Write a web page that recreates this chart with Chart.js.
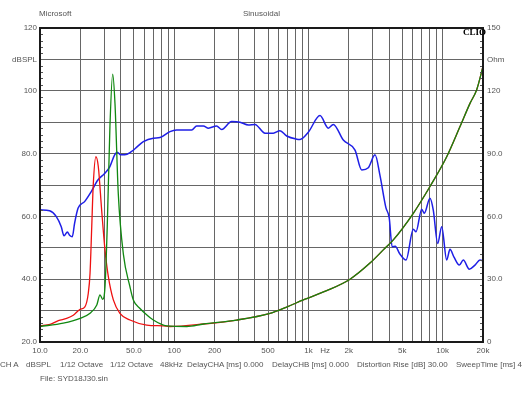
<!DOCTYPE html>
<html><head><meta charset="utf-8">
<script src="https://cdn.jsdelivr.net/npm/chart.js@4/dist/chart.umd.min.js"></script>
<style>
html,body{margin:0;padding:0;background:#fff;}
#wrap{position:relative;width:530px;height:398px;font-family:"Liberation Sans",Arial,sans-serif;color:#555;}
canvas{position:absolute;left:0;top:0;}
.t{position:absolute;font-size:8px;white-space:nowrap;line-height:10px;}
</style></head>
<body><div id="wrap"><canvas id="c" width="530" height="398"></canvas>
<div class="t" style="left:39px;top:9px;">Microsoft</div>
<div class="t" style="left:243px;top:9px;">Sinusoidal</div>
<div class="t" style="left:463px;top:27px;font-family:'Liberation Serif',serif;font-weight:bold;font-size:9px;color:#000;">CLIO</div>
<div class="t" style="left:0px;top:360px;">CH A</div>
<div class="t" style="left:26px;top:360px;">dBSPL</div>
<div class="t" style="left:60px;top:360px;">1/12 Octave</div>
<div class="t" style="left:110px;top:360px;">1/12 Octave</div>
<div class="t" style="left:160px;top:360px;">48kHz</div>
<div class="t" style="left:187px;top:360px;">DelayCHA [ms] 0.000</div>
<div class="t" style="left:272px;top:360px;">DelayCHB [ms] 0.000</div>
<div class="t" style="left:357px;top:360px;">Distortion Rise [dB] 30.00</div>
<div class="t" style="left:456px;top:360px;">SweepTime [ms] 4</div>
<div class="t" style="left:40px;top:374px;">File: SYD18J30.sin</div>
</div>
<script>
// Frequency response (dBSPL, left axis)
const splFreq = [10,11.8,13.2,14.4,15.1,16.0,16.6,17.4,18.1,19.2,21.5,24.1,27.0,30.3,33.1,36.0,37.7,39.9,42.8,47.9,53.1,58.9,69.9,78.4,93,104,135,147,165,180,207,226,268,309,357,400,475,548,614,689,818,866,998,1220,1407,1532,1820,2225,2497,2795,3136,3417,3780,4000,4210,4440,4790,5338,6049,6337,6987,7303,8054,8523,9194,9847,10730,11350,12160,13320,14260,15810,17430,18990,20000];
const splDb   = [62.1,61.8,60.0,56.7,53.8,55.0,54.0,53.5,57.8,62.6,64.7,67.9,71.6,73.7,75.8,79.6,80.4,79.6,79.6,80.6,82.2,83.8,84.9,85.1,87.0,87.5,87.5,88.8,88.8,88.1,88.8,87.7,90.2,90.0,89.1,89.3,86.5,86.5,87.3,85.6,84.6,84.5,86.8,92.1,88.1,89.3,84.3,81.1,74.8,75.5,79.6,73.0,62.8,59.6,50.3,50.5,48.1,46.1,55.9,55.1,62.3,61.0,65.8,62.0,51.4,56.7,46.1,49.5,47.0,44.5,46.1,43.2,44.5,46.1,45.9];
// Impedance curve A (red, Ohm, right axis)
const zAFreq = [10,11.9,13.7,15.8,17.7,19.9,21.6,22.9,23.6,24.3,24.9,26.1,27.2,28.8,30.5,32.3,35.2,39.4,46.8,62.4,83,93,165,292,518,689,916,1368,2042,2877,3614,4292,6050,8054,10730,13480,16000,17950,20000];
const zAOhm  = [7.8,8.4,10.2,11.3,12.8,15.6,16.8,23.3,32.9,55.2,74.3,88.5,83.7,63.0,44.0,31.2,20.1,13.7,10.5,8.1,7.7,7.4,8.6,10.5,13.7,16.7,20.1,24.5,30.0,37.7,44.0,48.8,61.5,74.3,88.5,102.9,114.0,120.5,131.6];
// Impedance curve B (green, Ohm, right axis)
const zBFreq = [10,14.9,19.9,23.6,26.5,28.0,29.3,30.5,31.7,33.2,34.8,36.2,38.3,41.8,46.8,49.6,55.6,60.6,69.9,87.9,124,165,292,518,689,916,1368,2042,2877,3614,4292,6050,8054,10730,13480,16000,17950,20000];
const zBOhm  = [7.4,9.0,11.3,13.7,17.7,22.5,20.4,26.4,55.0,103.0,128.0,114.0,71.0,42.0,26.4,20.1,16.0,13.7,10.5,7.7,7.4,8.6,10.5,13.7,16.7,20.1,24.5,30.0,37.7,44.0,48.8,61.5,74.3,88.5,102.9,114.0,120.5,131.6];
// Axis ticks
const xTickValues = [10,20,30,40,50,60,70,80,90,100,200,300,400,500,600,700,800,900,1000,1330,2000,3000,4000,5000,6000,7000,8000,9000,10000,20000];
const xTickLabels = {10:'10.0',20:'20.0',50:'50.0',100:'100',200:'200',500:'500',1000:'1k',1330:'Hz',2000:'2k',5000:'5k',10000:'10k',20000:'20k'};
const yLeftLabels = {20:'20.0',40:'40.0',60:'60.0',80:'80.0',100:'100',110:'dBSPL',120:'120'};
const yRightLabels = {0:'0',30:'30.0',60:'60.0',90:'90.0',120:'120',135:'Ohm',150:'150'};

const pts = (xs, ys) => xs.map((x, i) => ({x: x, y: ys[i]}));
const tickFont = {family: '"Liberation Sans", Arial, sans-serif', size: 8};
const GRID = '#666666';

const frame = {
  id: 'frame',
  afterDraw(chart) {
    const {ctx, chartArea: a, scales} = chart;
    ctx.save();
    ctx.strokeStyle = '#555';
    ctx.lineWidth = 1;
    ctx.beginPath();
    for (let v = 20; v <= 120; v += 2) {
      if (v % 10 === 0) continue;
      const y = Math.round(scales.y.getPixelForValue(v)) + 0.5;
      ctx.moveTo(a.left, y); ctx.lineTo(a.left + 3, y);
    }
    for (let v = 0; v <= 150; v += 3) {
      if (v % 15 === 0) continue;
      const y = Math.round(scales.y2.getPixelForValue(v)) + 0.5;
      ctx.moveTo(a.right - 3, y); ctx.lineTo(a.right, y);
    }
    ctx.stroke();
    ctx.strokeStyle = '#1a1a1a';
    ctx.lineWidth = 2;
    ctx.strokeRect(a.left, a.top, a.right - a.left, a.bottom - a.top);
    ctx.restore();
  }
};

new Chart(document.getElementById('c'), {
  type: 'line',
  data: {
    datasets: [
      {label: 'Z B', data: pts(zBFreq, zBOhm), yAxisID: 'y2', borderColor: '#118811', borderWidth: 1.3, pointRadius: 0, cubicInterpolationMode: 'monotone', order: 0},
      {label: 'Z A', data: pts(zAFreq, zAOhm), yAxisID: 'y2', borderColor: '#ee1111', borderWidth: 1.3, pointRadius: 0, cubicInterpolationMode: 'monotone', order: 1},
      {label: 'SPL', data: pts(splFreq, splDb), yAxisID: 'y', borderColor: '#1f1fe6', borderWidth: 1.5, pointRadius: 0, cubicInterpolationMode: 'monotone', order: 2}
    ]
  },
  options: {
    responsive: false,
    animation: false,
    devicePixelRatio: 1,
    layout: {padding: {top: 28, left: 0, right: 0, bottom: 0}},
    plugins: {legend: {display: false}, tooltip: {enabled: false}},
    scales: {
      x: {
        type: 'logarithmic', min: 10, max: 20000,
        afterBuildTicks: s => { s.ticks = xTickValues.map(v => ({value: v})); },
        afterFit: s => { s.height = 56; },
        grid: {color: c => (c.tick && c.tick.value === 1330) ? 'rgba(0,0,0,0)' : GRID, lineWidth: 1, drawTicks: false},
        border: {display: false},
        ticks: {autoSkip: false, maxRotation: 0, padding: 4, color: '#555', font: tickFont,
          callback: v => xTickLabels[v] !== undefined ? xTickLabels[v] : ''}
      },
      y: {
        position: 'left', min: 20, max: 120,
        afterBuildTicks: s => { const t = []; for (let v = 20; v <= 120; v += 10) t.push({value: v}); s.ticks = t; },
        afterFit: s => { s.width = 40; },
        grid: {color: GRID, lineWidth: 1, drawTicks: false},
        border: {display: false},
        ticks: {autoSkip: false, padding: 3, color: '#555', font: tickFont,
          callback: v => yLeftLabels[v] !== undefined ? yLeftLabels[v] : ''}
      },
      y2: {
        position: 'right', min: 0, max: 150,
        afterBuildTicks: s => { const t = []; for (let v = 0; v <= 150; v += 15) t.push({value: v}); s.ticks = t; },
        afterFit: s => { s.width = 47; },
        grid: {drawOnChartArea: false, drawTicks: false},
        border: {display: false},
        ticks: {autoSkip: false, padding: 4, color: '#555', font: tickFont,
          callback: v => yRightLabels[v] !== undefined ? yRightLabels[v] : ''}
      }
    }
  },
  plugins: [frame]
});
</script>
</body></html>
